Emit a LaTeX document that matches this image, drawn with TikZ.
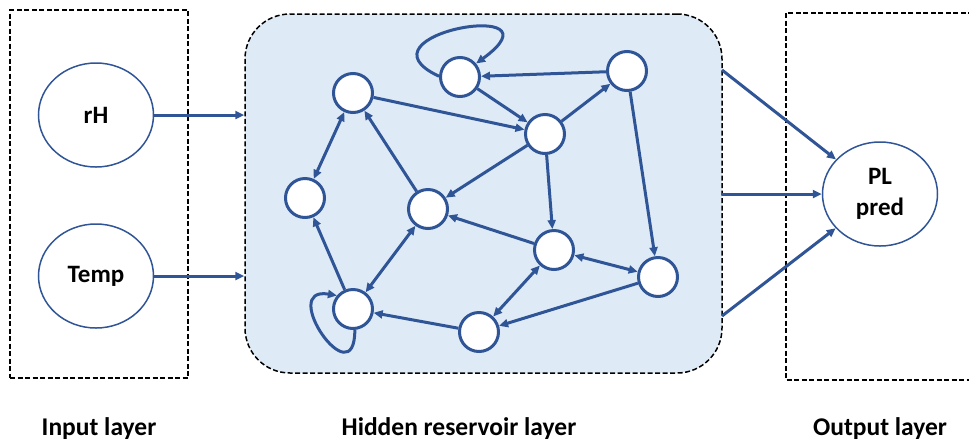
\documentclass[tikz,border=0pt]{standalone}
\usepackage{fontspec}
\setmainfont{Carlito}
\usetikzlibrary{arrows.meta,shapes.geometric}
\definecolor{C0}{RGB}{47,85,151}
\definecolor{C1}{RGB}{222,235,247}

\begin{document}
\begin{tikzpicture}[x=1pt,y=-1pt,>={Triangle[length=9pt,width=8pt]},
                neuron/.style={circle,draw=C0,fill=white,line width=3pt,minimum size=39pt,inner sep=0pt},
                unit/.style={ellipse,draw=C0,line width=1.5pt,minimum width=115pt,minimum height=104pt,
                    inner sep=0pt,align=center,font=\fontsize{25}{31}\selectfont\bfseries},
                link/.style={draw=C0,line width=3pt},
                layer/.style={draw,dash pattern=on 5pt off 2.5pt,line width=1.5pt},
                caption/.style={anchor=base,font=\fontsize{25.5}{30}\selectfont\bfseries}]
                \useasboundingbox (0,0) rectangle (969,440);

                \node[layer,minimum width=178pt,minimum height=368pt] (inbox) at (99,194) {};
                \node[layer,fill=C1,rounded corners=45pt,minimum width=477pt,minimum height=359pt] (res) at (483.5,193.5) {};
                \draw[layer] (786,13) rectangle (985,380);

                \node[unit] (rH) at (96,115) {rH};
                \node[unit] (temp) at (96,276) {Temp};
                \node[unit] (pl) at (880,194) {PL\\pred};

                \node[neuron] (n1) at (460,77) {};
                \node[neuron] (n2) at (627,71) {};
                \node[neuron] (n3) at (353,93) {};
                \node[neuron] (n4) at (545,134) {};
                \node[neuron] (n5) at (305,198) {};
                \node[neuron] (n6) at (428,209) {};
                \node[neuron] (n7) at (554,250) {};
                \node[neuron] (n8) at (658,277) {};
                \node[neuron] (n9) at (353,309) {};
                \node[neuron] (n10) at (479,332) {};

                \draw[link,->] (n2) -- (n1);
                \draw[link,->] (n1) -- (n4);
                \draw[link,->] (n3) -- (n4);
                \draw[link,->] (n4) -- (n2);
                \draw[link,->] (n4) -- (n6);
                \draw[link,<->] (n3) -- (n5);
                \draw[link,->] (n6) -- (n3);
                \draw[link,->] (n4) -- (n7);
                \draw[link,->] (n2) -- (n8);
                \draw[link,->] (n7) -- (n6);
                \draw[link,<->] (n7) -- (n8);
                \draw[link,<->] (n6) -- (n9);
                \draw[link,->] (n9) -- (n5);
                \draw[link,->] (n10) -- (n9);
                \draw[link,<->] (n7) -- (n10);
                \draw[link,->] (n8) -- (n10);
                \draw[link,->] (n1.178) .. controls +(-90,-42) and +(92,-67) .. (n1.40);
                \draw[link,->] (n9.-85) .. controls +(0,69) and +(-60,-10) .. (n9.140);

                \draw[link,->] (rH) -- (rH -| res.west);
                \draw[link,->] (temp) -- (temp -| res.west);

                \coordinate (o1) at (722,70);
                \coordinate (o2) at (722,194);
                \coordinate (o3) at (722,316);
                \draw[link,->] (o1) -- (pl);
                \draw[link,->] (o2) -- (pl);
                \draw[link,->] (o3) -- (pl);

                \node[caption] (inlabel) at (99,435) {Input layer};
                \node[caption] (reslabel) at (459,435) {Hidden reservoir layer};
                \node[caption] (outlabel) at (880,435) {Output layer};
            \end{tikzpicture}
\end{document}
